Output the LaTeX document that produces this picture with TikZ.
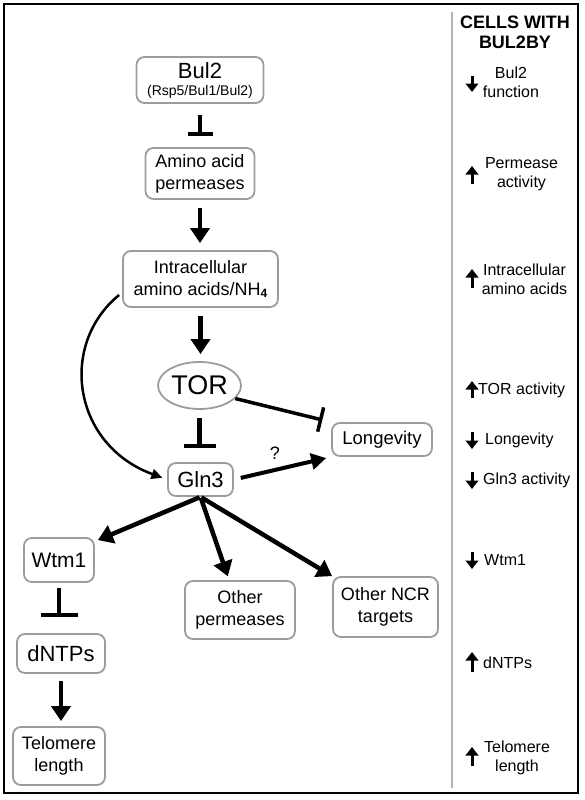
\documentclass[tikz,border=0pt]{standalone}
\usepackage{fontspec}
\setmainfont{Liberation Sans}
\usetikzlibrary{arrows.meta,shapes.geometric,calc}
\definecolor{boxgray}{HTML}{9C9C9C}
\definecolor{sidegray}{HTML}{B4B4B4}
\newcommand\myfs[2]{\fontsize{#1}{#2}\selectfont}
\begin{document}
\begin{tikzpicture}[x=1pt,y=-1pt,
  box/.style={draw=boxgray, line width=1.8pt, rounded corners=8pt, fill=white, align=center, inner sep=0pt, font=\myfs{18}{22}},
  act/.style={line width=4.5pt, -{Triangle[length=15pt,width=19pt]}},
  actq/.style={line width=4pt, -{Triangle[length=15pt,width=16pt]}},
  inh/.style={line width=4.5pt, -{Bar[width=#1]}},
  ind/.style={line width=3pt, -{Triangle[length=8.5pt,width=12.5pt]}},
  side/.style={font=\myfs{16}{19}, align=center, inner sep=0pt},
]
\useasboundingbox (0,0) rectangle (584,800);
\draw[line width=2.6pt] (4,4) rectangle (578,793);
\draw[sidegray, line width=2.5pt] (452,12) -- (452,788);

% main nodes
\node[box, minimum width=127pt, minimum height=46pt, font=\myfs{14}{17}] (bul2) at (200,80)
  {{\myfs{22}{22}Bul2}\\(Rsp5/Bul1/Bul2)};
\node[box, minimum width=109pt, minimum height=51pt] (aap) at (200,173.5) {Amino acid\\permeases};
\node[box, minimum width=155pt, minimum height=56pt] (intra) at (200.5,279)
  {Intracellular\\amino acids/NH\raisebox{-2.5pt}{\myfs{12}{12}\bfseries 4}};
\node[ellipse, draw=boxgray, line width=1.8pt, minimum width=83pt, minimum height=47pt, inner sep=0pt, font=\myfs{27}{27}] (tor) at (199.5,385.5) {TOR};
\node[box, minimum width=65pt, minimum height=33pt, font=\myfs{22}{22}] (gln3) at (200.5,479.5) {Gln3};
\node[box, minimum width=100pt, minimum height=33pt, font=\myfs{18.5}{22}] (longev) at (382,439.5) {Longevity};
\node[box, minimum width=70pt, minimum height=44pt, font=\myfs{21}{22}] (wtm1) at (59,560) {Wtm1};
\node[box, minimum width=110pt, minimum height=58pt] (operm) at (240,610) {Other\\permeases};
\node[box, minimum width=105pt, minimum height=60pt] (ncr) at (385.5,607) {Other NCR\\targets};
\node[box, minimum width=88pt, minimum height=39pt, font=\myfs{22}{22}] (dntp) at (61,653.5) {dNTPs};
\node[box, minimum width=92pt, minimum height=58pt] (telo) at (59,756) {Telomere\\length};
\node[font=\myfs{18}{18}, inner sep=0pt] (q) at (275,453) {?};

% connectors
\draw[inh=25pt, shorten <=11pt, shorten >=11pt] (bul2.south) -- (aap.north);
\draw[act, shorten <=8pt, shorten >=7pt] (aap.south) -- (aap.south |- intra.north);
\draw[act, shorten <=8pt, shorten >=7pt] (intra.south) -- (intra.south |- tor.north);
\draw[inh=32pt, shorten <=8pt, shorten >=14pt] (tor.south) -- (tor.south |- gln3.north);
\draw[line width=3.5pt, -{Bar[width=25pt]}, shorten >=9pt] (tor.-20) -- (longev.north west);
\draw[actq, shorten <=7pt, shorten >=5pt] (gln3.east) -- (longev.south west);
\draw[line width=2.5pt, -{Triangle[length=11pt,width=10pt]}, shorten >=5pt]
  ($(intra.west)+(-3,16)$) .. controls (58,345) and (73,445) .. (gln3.west);
\draw[act, shorten <=1pt] (gln3.south) -- ($(wtm1.north east)+(3,3)$);
\draw[act, shorten <=1pt, shorten >=4pt] (gln3.south) -- (operm.110);
\draw[act, shorten <=1pt] (gln3.south) -- (ncr.north west);
\draw[inh=37pt, shorten <=5pt, shorten >=16pt] (wtm1.south) -- (wtm1.south |- dntp.north);
\draw[act, shorten <=7pt, shorten >=5pt] (dntp.south) -- (dntp.south |- telo.north);

% side column
\node[font=\bfseries\myfs{18}{20}, align=center, inner sep=0pt] (hdr) at (515,32) {CELLS WITH\\BUL2BY};
\node[side] (s1) at (511,82) {Bul2\\function};
\node[side] (s2) at (521.5,174) {Permease\\activity};
\node[side] (s3) at (524.5,279.5) {Intracellular\\amino acids};
\node[side, anchor=west] (s4) at (478,390) {TOR activity};
\node[side, anchor=west] (s5) at (485,440) {Longevity};
\node[side, anchor=west] (s6) at (483,480) {Gln3 activity};
\node[side, anchor=west] (s7) at (484,560) {Wtm1};
\node[side, anchor=west] (s8) at (483,663) {dNTPs};
\node[side] (s9) at (517,757.5) {Telomere\\length};

\coordinate (a1s) at (472,76);  \coordinate (a1e) at (472,92);
\coordinate (a2s) at (472,184); \coordinate (a2e) at (472,166);
\coordinate (a3s) at (472,288); \coordinate (a3e) at (472,269);
\coordinate (a4s) at (472,398); \coordinate (a4e) at (472,381);
\coordinate (a5s) at (472,432); \coordinate (a5e) at (472,449);
\coordinate (a6s) at (472,472); \coordinate (a6e) at (472,489);
\coordinate (a7s) at (472,552); \coordinate (a7e) at (472,569);
\coordinate (a8s) at (472,672); \coordinate (a8e) at (472,652);
\coordinate (a9s) at (472,766); \coordinate (a9e) at (472,747);
\foreach \i in {1,...,9} {\draw[ind] (a\i s) -- (a\i e);}
\end{tikzpicture}
\end{document}
